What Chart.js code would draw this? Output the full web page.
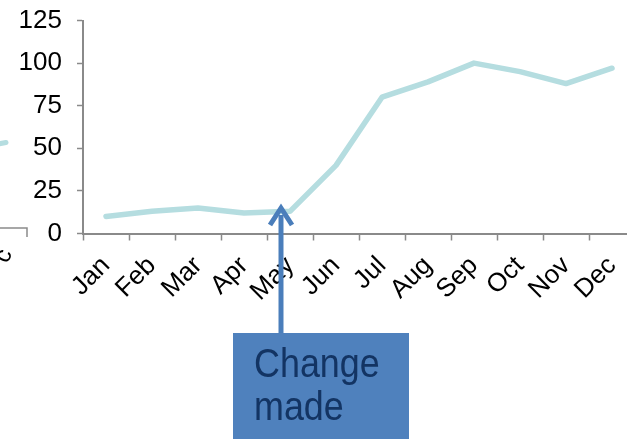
<!DOCTYPE html>
<html>
<head>
<meta charset="utf-8">
<script src="https://cdn.jsdelivr.net/npm/chart.js@4/dist/chart.umd.min.js"></script>
<style>
  html, body { margin: 0; padding: 0; background: #fff; }
  #wrap { position: relative; width: 627px; height: 439px; overflow: hidden; }
  #box { position: absolute; left: 0; top: 0; width: 640px; height: 439px; }
</style>
</head>
<body>
<div id="wrap"><div id="box"><canvas id="c"></canvas></div></div>
<script>
// Monthly values of the tracked series
const months = ['Jan', 'Feb', 'Mar', 'Apr', 'May', 'Jun', 'Jul', 'Aug', 'Sep', 'Oct', 'Nov', 'Dec'];
const values = [10, 13, 15, 12, 13, 40, 80, 89, 100, 95, 88, 97];
const yTicks = [0, 25, 50, 75, 100, 125];
const noteText = ['Change', 'made'];

const FONT = '"Liberation Sans", Arial, sans-serif';
const AXIS = '#8a8a8a';
const LINE = '#b5dde0';

// Callout box with an arrow pointing at the change, plus the clipped legend bits on the left edge
const callout = {
  id: 'callout',
  afterDraw(chart) {
    const ctx = chart.ctx;
    ctx.save();

    // clipped legend remnants at the left edge
    ctx.strokeStyle = LINE;
    ctx.lineWidth = 5;
    ctx.lineCap = 'round';
    ctx.beginPath();
    ctx.moveTo(-2, 144);
    ctx.lineTo(6, 142.5);
    ctx.stroke();

    ctx.strokeStyle = AXIS;
    ctx.lineWidth = 1.5;
    ctx.lineCap = 'butt';
    ctx.beginPath();
    ctx.moveTo(0, 228);
    ctx.lineTo(27, 228);
    ctx.lineTo(27, 237);
    ctx.stroke();

    ctx.fillStyle = '#000';
    ctx.font = '24px ' + FONT;
    ctx.translate(4, 256);
    ctx.rotate(-Math.PI / 2.6);
    ctx.textAlign = 'center';
    ctx.textBaseline = 'middle';
    ctx.fillText('c', 0, 0);
    ctx.setTransform(1, 0, 0, 1, 0, 0);

    // arrow
    const ax = 281, tipY = 205, baseY = 333;
    ctx.strokeStyle = '#4a7ebb';
    ctx.lineWidth = 5;
    ctx.beginPath();
    ctx.moveTo(ax, baseY);
    ctx.lineTo(ax, tipY + 10);
    ctx.stroke();
    ctx.lineJoin = 'miter';
    ctx.beginPath();
    ctx.moveTo(ax - 11, tipY + 20);
    ctx.lineTo(ax, tipY + 3);
    ctx.lineTo(ax + 11, tipY + 20);
    ctx.stroke();

    // box
    ctx.fillStyle = '#4f81bd';
    ctx.fillRect(233, 333, 176, 110);

    ctx.fillStyle = '#133463';
    ctx.font = '37px ' + FONT;
    ctx.textAlign = 'left';
    ctx.textBaseline = 'alphabetic';
    ctx.save();
    ctx.translate(254, 377);
    ctx.scale(0.97, 1.1);
    ctx.fillText(noteText[0], 0, 0);
    ctx.restore();
    ctx.save();
    ctx.translate(254, 420);
    ctx.scale(0.97, 1.1);
    ctx.fillText(noteText[1], 0, 0);
    ctx.restore();
    ctx.restore();
  }
};

new Chart(document.getElementById('c'), {
  type: 'line',
  data: {
    labels: months,
    datasets: [{
      data: values,
      borderColor: LINE,
      borderWidth: 5.5,
      tension: 0,
      pointRadius: 0,
      borderCapStyle: 'round',
      borderJoinStyle: 'round',
      fill: false
    }]
  },
  options: {
    responsive: true,
    maintainAspectRatio: false,
    animation: false,
    events: [],
    layout: { padding: { top: 20.5, left: 0, right: 5, bottom: 0 } },
    plugins: { legend: { display: false }, tooltip: { enabled: false } },
    scales: {
      x: {
        offset: true,
        grid: {
          offset: true,
          drawOnChartArea: false,
          drawTicks: true,
          tickLength: 7,
          tickColor: AXIS,
          tickWidth: 1.5
        },
        border: { display: true, color: AXIS, width: 2 },
        ticks: {
          minRotation: 45,
          maxRotation: 45,
          autoSkip: false,
          padding: 10,
          color: '#000',
          font: { family: FONT, size: 26 }
        },
        afterFit(scale) {
          scale.height = 439 - 233.5;
          scale.paddingLeft = 0;
          scale.paddingRight = 0;
        }
      },
      y: {
        min: 0,
        max: 125,
        afterBuildTicks(scale) { scale.ticks = yTicks.map(v => ({ value: v })); },
        grid: {
          drawOnChartArea: false,
          drawTicks: true,
          tickLength: 6,
          tickColor: AXIS,
          tickWidth: 1.5
        },
        border: { display: true, color: AXIS, width: 2 },
        ticks: {
          padding: 15,
          color: '#000',
          font: { family: FONT, size: 26 }
        },
        afterFit(scale) {
          scale.width = 83;
          scale.paddingTop = 0;
          scale.paddingBottom = 0;
        }
      }
    }
  },
  plugins: [callout]
});
</script>
</body>
</html>
